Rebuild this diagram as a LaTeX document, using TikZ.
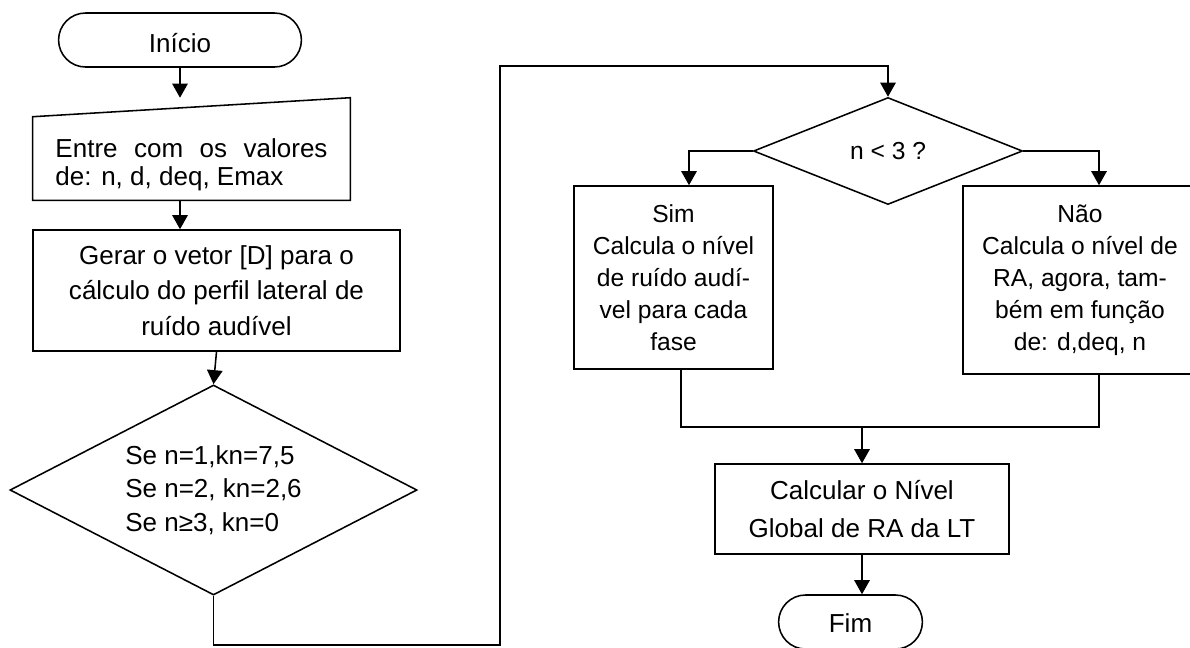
\documentclass[tikz,border=0pt]{standalone}
\usepackage{fontspec}
\setmainfont{Liberation Sans}
\usetikzlibrary{arrows.meta,positioning,calc,shapes.geometric,shapes.misc}
\newcommand{\FlowFont}{\fontsize{18.5pt}{24pt}\selectfont}
\newcommand{\FlowFontIn}{\fontsize{18.5pt}{19.9pt}\selectfont}
\newcommand{\FlowFontGer}{\fontsize{18.5pt}{25.2pt}\selectfont}
\newcommand{\FlowFontCase}{\fontsize{17.5pt}{22.8pt}\selectfont}
\newcommand{\FlowFontCal}{\fontsize{18.5pt}{27pt}\selectfont}
\definecolor{FlowDraw}{RGB}{0,0,0}
\definecolor{FlowFill}{RGB}{255,255,255}
\tikzset{
  every node/.style={align=center},
  %% base block
  blk/.style={
    draw=FlowDraw,
    fill=FlowFill,
    line width=1.1pt,
    inner sep=4pt,
    font=\FlowFont,
  },
  %% flow blocks
  termBlk/.style={
    blk, rounded rectangle,
    minimum width=6.35cm,
    minimum height=1.35cm,
  },
  inBlk/.style={
    font=\FlowFontIn,
    align=flush left,
    text width=6.8cm,
    minimum width=7.925cm,
    minimum height=2.55cm,
  },
  procBlk/.style={
    blk, rectangle,
  },
  caseBlk/.style={
    blk, rectangle,
    font=\FlowFontCase,
  },
  decBlk/.style={
    blk, diamond,
    inner sep=0pt,
  },
  %% lines
  frm/.style={
    draw=FlowDraw,
    line width=1.1pt,
  },
  ln/.style={
    line width=1.1pt,
    FlowDraw,
  },
  arr/.style={
    -{Triangle[length=10pt,width=11pt]},
    line width=1.1pt,
    FlowDraw,
  },
}

\begin{document}
\begin{tikzpicture}[x=0.025cm, y=-0.025cm]
\useasboundingbox (0,0) rectangle (1190,647);
\clip (0,0) rectangle (1190,647);

%%═══════════════════════════════ LEFT COLUMN ═════════════════════════════════

\node[termBlk] (INI) at (180,40) {\rule{0pt}{0.62cm}Início};

\node[inBlk] (ENT) at (191.5,149) {%
  \rule{0pt}{1.24cm}Entre\hfill com\hfill os\hfill valores\\
  de: n, d, deq, Emax
};
\draw[frm] (ENT.south west) -- ([yshift=-0.475cm]ENT.north west)
  -- (ENT.north east) -- (ENT.south east) -- cycle;

\node[procBlk, minimum width=9.175cm, minimum height=3.025cm, font=\FlowFontGer]
  (GER) at (216.5,290.5) {%
  Gerar o vetor [D] para o\\
  cálculo do perfil lateral de\\
  ruído audível
};

\node[decBlk, aspect=1.94, minimum width=10.175cm, minimum height=5.25cm,
      align=left] (DEC1) at (213.5,490) {%
  Se n=1,kn=7,5\\
  Se n=2, kn=2,6\\
  Se n≥3, kn=0
};

%% ── Left column arrows ─────────────────────────────────────────────────────
\draw[arr] (INI.south) -- (INI.south |- ENT.north);
\draw[arr] (INI.south |- ENT.south) -- (INI.south |- GER.north);
\draw[arr] (GER.south) -- (DEC1.north);

%%═══════════════════════════════ RIGHT COLUMN ════════════════════════════════

\node[decBlk, aspect=2.51, minimum width=6.725cm, minimum height=2.675cm,
      font=\FlowFontCase] (DEC2) at (888,151) {n < 3 ?};

\node[caseBlk, minimum width=4.975cm, minimum height=4.575cm]
  (SIM) at (673.5,277.5) {%
  Sim\\
  Calcula o nível\\
  de ruído audí-\\
  vel para cada\\
  fase
};

\node[caseBlk, minimum width=5.85cm, minimum height=4.7cm]
  (NAO) at (1080,280) {%
  Não\\
  Calcula o nível de\\
  RA, agora, tam-\\
  bém em função\\
  de: d,deq, n
};

\node[procBlk, minimum width=7.35cm, minimum height=2.25cm, font=\FlowFontCal]
  (CAL) at (862,509) {%
  Calcular o Nível\\
  Global de RA da LT
};

\node[termBlk, minimum width=3.875cm] (FIM) at (850.5,622) {\rule{0pt}{0.5cm}Fim};

%% ── Loop from first to second decision ────────────────────────────────────
\coordinate (LB) at (500,645);
\coordinate (LT) at (500,66);
\draw[arr] (DEC1.south) |- (LB) -- (LT) -| (DEC2.north);

%% ── Branch arrows ──────────────────────────────────────────────────────────
\draw[arr] (DEC2.west) -| ([xshift=0.3875cm]SIM.north);
\draw[arr] (DEC2.east) -| ([xshift=0.475cm]NAO.north);

%% ── Merge and end ──────────────────────────────────────────────────────────
\coordinate (JN) at (862,427);
\draw[ln]  ([xshift=0.19cm]SIM.south) |- (JN) -| ([xshift=0.475cm]NAO.south);
\draw[arr] (JN) -- (CAL.north);
\draw[arr] (CAL.south) -- (CAL.south |- FIM.north);

\end{tikzpicture}
\end{document}
